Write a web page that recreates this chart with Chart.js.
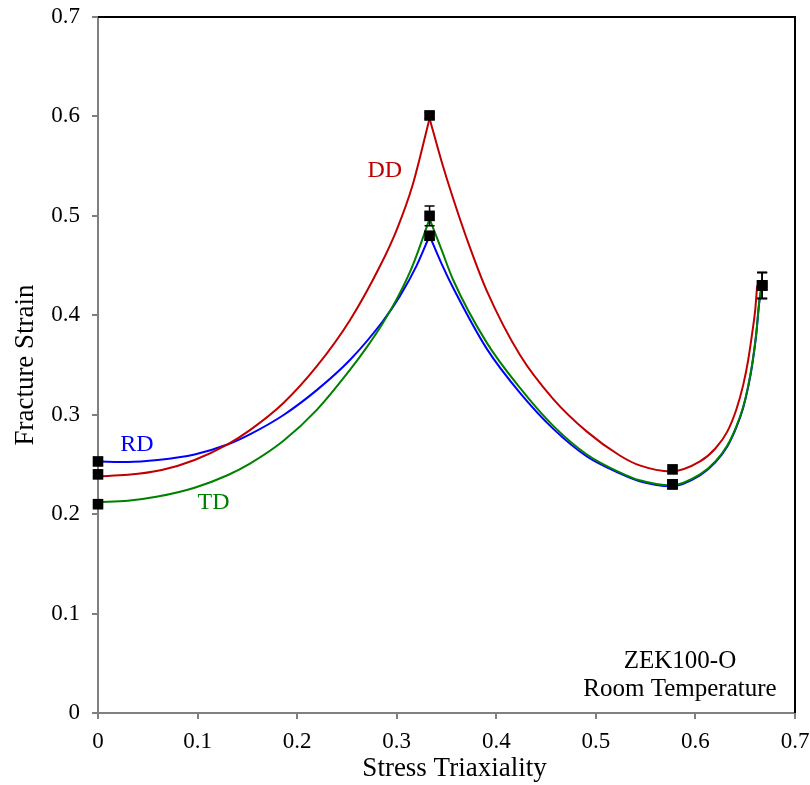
<!DOCTYPE html>
<html>
<head>
<meta charset="utf-8">
<script src="https://cdn.jsdelivr.net/npm/chart.js@4.4.1/dist/chart.umd.min.js"></script>
<style>
html,body{margin:0;padding:0;background:#fff;}
#wrap{width:810px;height:785px;}
</style>
</head>
<body>
<div id="wrap"><canvas id="c" width="810" height="785"></canvas></div>
<script>
// Measured points
const triax = [0, 0.333, 0.577, 0.667];
const rdStrain = [0.253, 0.480, 0.230, 0.430];
const ddStrain = [0.240, 0.601, 0.245, 0.430];
const tdStrain = [0.210, 0.500, 0.230, 0.430];
const rdErr = [0, 0.004, 0, 0.013];
const ddErr = [0, 0.003, 0, 0.013];
const tdErr = [0, 0.010, 0, 0.013];

// Fitted curves
const rdLeftX = [0, 0.03, 0.06, 0.097, 0.13, 0.153, 0.186, 0.22, 0.253, 0.286, 0.303, 0.32, 0.333];
const rdLeftY = [0.253, 0.2525, 0.2545, 0.260, 0.270, 0.2805, 0.2995, 0.325, 0.355, 0.394, 0.419, 0.450, 0.480];
const ddLeftX = [0, 0.03, 0.064, 0.097, 0.1306, 0.1526, 0.186, 0.22, 0.253, 0.283, 0.30, 0.316, 0.333];
const ddLeftY = [0.238, 0.2395, 0.2444, 0.2545, 0.2705, 0.2845, 0.3115, 0.349, 0.395, 0.449, 0.486, 0.531, 0.598];
const tdLeftX = [0, 0.03, 0.06, 0.097, 0.1306, 0.1526, 0.186, 0.22, 0.253, 0.27, 0.286, 0.303, 0.316, 0.333];
const tdLeftY = [0.212, 0.2135, 0.2177, 0.2266, 0.2394, 0.2508, 0.2735, 0.3051, 0.345, 0.368, 0.392, 0.422, 0.450, 0.497];

const rdRightX = [0.333, 0.345, 0.3565, 0.3907, 0.4238, 0.457, 0.491, 0.524, 0.544, 0.5755, 0.6046, 0.62, 0.632, 0.641, 0.648, 0.653, 0.657, 0.661, 0.664, 0.667];
const rdRightY = [0.480, 0.452, 0.428, 0.366, 0.322, 0.286, 0.258, 0.241, 0.233, 0.228, 0.239, 0.252, 0.268, 0.287, 0.307, 0.328, 0.350, 0.380, 0.412, 0.432];
const tdRightX = [0.333, 0.345, 0.3565, 0.3907, 0.4238, 0.457, 0.491, 0.524, 0.544, 0.5755, 0.6046, 0.62, 0.632, 0.641, 0.648, 0.653, 0.657, 0.661, 0.664, 0.667];
const tdRightY = [0.497, 0.466, 0.436, 0.372, 0.327, 0.289, 0.260, 0.242, 0.234, 0.229, 0.240, 0.253, 0.269, 0.288, 0.308, 0.329, 0.351, 0.381, 0.413, 0.433];
const ddRightX = [0.333, 0.345, 0.3565, 0.3736, 0.3907, 0.4238, 0.457, 0.491, 0.524, 0.544, 0.5755, 0.6046, 0.62, 0.632, 0.641, 0.648, 0.653, 0.657, 0.660, 0.662];
const ddRightY = [0.598, 0.555, 0.518, 0.468, 0.424, 0.360, 0.316, 0.283, 0.259, 0.249, 0.243, 0.253, 0.266, 0.283, 0.305, 0.330, 0.355, 0.382, 0.405, 0.430];

const xTicks = [0, 0.1, 0.2, 0.3, 0.4, 0.5, 0.6, 0.7];
const yTicks = [0, 0.1, 0.2, 0.3, 0.4, 0.5, 0.6, 0.7];

const RED = '#c00000', BLUE = '#0000ff', GREEN = '#008000';
const FONT = "'Liberation Serif', 'Times New Roman', serif";

function pts(xs, ys){ return xs.map((x,i)=>({x:x, y:ys[i]})); }
function lineDs(xs, ys, color, order){
  return {type:'line', data:pts(xs, ys), borderColor:color, borderWidth:2, pointRadius:0,
          fill:false, cubicInterpolationMode:'monotone', order:order};
}

const markers = [];
[rdStrain, ddStrain, tdStrain].forEach(arr => arr.forEach((v,i)=>markers.push({x:triax[i], y:v})));

const errorBars = {
  id:'errorBars',
  afterDatasetsDraw(chart){
    const {ctx, scales:{x, y}} = chart;
    ctx.save();
    ctx.strokeStyle = '#000'; ctx.lineWidth = 1.5;
    [[rdStrain, rdErr],[ddStrain, ddErr],[tdStrain, tdErr]].forEach(([vals, errs])=>{
      vals.forEach((v,i)=>{
        const e = errs[i]; if(!e) return;
        const px = x.getPixelForValue(triax[i]);
        const y1 = y.getPixelForValue(v+e), y2 = y.getPixelForValue(v-e);
        ctx.beginPath();
        ctx.moveTo(px, y1); ctx.lineTo(px, y2);
        ctx.moveTo(px-5, y1); ctx.lineTo(px+5, y1);
        ctx.moveTo(px-5, y2); ctx.lineTo(px+5, y2);
        ctx.stroke();
      });
    });
    ctx.restore();
  }
};

const frame = {
  id:'frame',
  afterDraw(chart){
    const {ctx, chartArea:a} = chart;
    ctx.save();
    ctx.strokeStyle = '#000'; ctx.lineWidth = 2;
    ctx.beginPath();
    ctx.moveTo(a.left, a.top); ctx.lineTo(a.right, a.top); ctx.lineTo(a.right, a.bottom);
    ctx.stroke();
    // x-axis title, slightly right of centre as in the original
    ctx.fillStyle = '#000';
    ctx.font = "27px " + FONT;
    ctx.textAlign = 'center';
    ctx.textBaseline = 'middle';
    ctx.fillText('Stress Triaxiality', (a.left + a.right) / 2 + 8, a.bottom + 56);
    ctx.restore();
  }
};

const notes = {
  id:'notes',
  afterDatasetsDraw(chart){
    const {ctx, scales:{x, y}} = chart;
    ctx.save();
    ctx.textBaseline = 'middle';
    ctx.textAlign = 'center';
    const items = [
      ['RD', 0.039, 0.270, BLUE],
      ['DD', 0.288, 0.545, RED],
      ['TD', 0.116, 0.212, GREEN],
      ['ZEK100-O', 0.5845, 0.052, '#000'],
      ['Room Temperature', 0.5845, 0.024, '#000']
    ];
    items.forEach(([t, vx, vy, c])=>{
      ctx.font = (c === '#000' ? "25px " : "24px ") + FONT;
      ctx.fillStyle = c;
      ctx.fillText(t, x.getPixelForValue(vx), y.getPixelForValue(vy));
    });
    ctx.restore();
  }
};

new Chart(document.getElementById('c'), {
  data:{
    datasets:[
      {type:'scatter', data:markers, pointStyle:'rect', pointRadius:7.5, pointBackgroundColor:'#000', pointBorderColor:'#000', pointBorderWidth:0, order:0, clip:false},
      lineDs(ddLeftX, ddLeftY, RED, 1),
      lineDs(ddRightX, ddRightY, RED, 1),
      lineDs(tdLeftX, tdLeftY, GREEN, 2),
      lineDs(tdRightX, tdRightY, GREEN, 2),
      lineDs(rdLeftX, rdLeftY, BLUE, 3),
      lineDs(rdRightX, rdRightY, BLUE, 3)
    ]
  },
  options:{
    responsive:false,
    devicePixelRatio:1,
    animation:false,
    events:[],
    layout:{padding:{top:17, right:15, left:0, bottom:0}},
    plugins:{legend:{display:false}, tooltip:{enabled:false}},
    scales:{
      x:{
        type:'linear', min:0, max:0.7,
        afterBuildTicks(s){ s.ticks = xTicks.map(v=>({value:v})); },
        afterFit(s){ s.height = 72; s.paddingLeft = 0; s.paddingRight = 0; },
        ticks:{font:{family:FONT, size:23}, color:'#000', padding:9, maxRotation:0,
               callback:v=> v===0 ? '0' : v.toFixed(1)},
        grid:{display:true, drawOnChartArea:false, drawTicks:true, tickLength:6, color:'#808080', lineWidth:2},
        border:{display:true, color:'#808080', width:2},
        title:{display:false}
      },
      y:{
        type:'linear', min:0, max:0.7,
        afterBuildTicks(s){ s.ticks = yTicks.map(v=>({value:v})); },
        afterFit(s){ s.width = 98; s.paddingTop = 0; s.paddingBottom = 0; },
        ticks:{font:{family:FONT, size:23}, color:'#000', padding:12,
               callback:v=> v===0 ? '0' : v.toFixed(1)},
        grid:{display:true, drawOnChartArea:false, drawTicks:true, tickLength:6, color:'#808080', lineWidth:2},
        border:{display:true, color:'#808080', width:2},
        title:{display:true, text:'Fracture Strain', font:{family:FONT, size:27}, color:'#000', padding:{top:10, bottom:0}}
      }
    }
  },
  plugins:[errorBars, frame, notes]
});
</script>
</body>
</html>
